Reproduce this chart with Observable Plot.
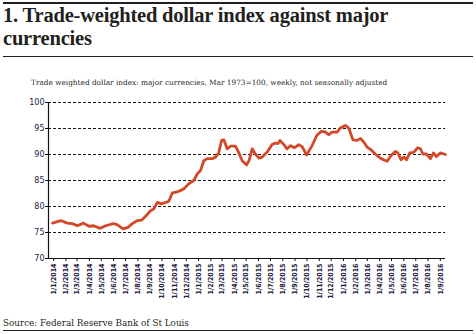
<!DOCTYPE html>
<html><head><meta charset="utf-8">
<script src="https://cdn.jsdelivr.net/npm/d3@7"></script>
<script src="https://cdn.jsdelivr.net/npm/@observablehq/plot@0.6"></script>
<style>
html,body{margin:0;padding:0;background:#fff}
body{width:476px;height:334px;position:relative;overflow:hidden;color:#231f20;font-family:"Liberation Serif","DejaVu Serif",serif}
.rule-top{position:absolute;left:3px;width:470px;top:2px;height:2px;background:#231f20}
.title{position:absolute;left:3px;top:4px;font-weight:bold;font-size:20.5px;line-height:23px;letter-spacing:-0.2px}
.rule-mid{position:absolute;left:3px;width:470px;top:56px;height:1px;background:#231f20}
.subtitle{position:absolute;left:31px;top:78px;font-family:"DejaVu Serif",serif;font-size:7.35px;white-space:nowrap}
#chart{position:absolute;left:0;top:90px}
.source{position:absolute;left:3px;top:318px;font-family:"DejaVu Serif",serif;font-size:8.8px;white-space:nowrap}
.rule-bot{position:absolute;left:3px;width:470px;top:330px;height:1px;background:#231f20}
</style>
</head><body>
<div class="rule-top"></div>
<div class="title">1. Trade-weighted dollar index against major<br>currencies</div>
<div class="rule-mid"></div>
<div class="subtitle">Trade weighted dollar index: major currencies, Mar 1973=100, weekly, not seasonally adjusted</div>
<div id="chart"></div>
<div class="source">Source: Federal Reserve Bank of St Louis</div>
<div class="rule-bot"></div>
<script>
const dates = ["2013-12-29","2014-01-19","2014-02-04","2014-02-17","2014-03-02","2014-03-17","2014-03-31","2014-04-12","2014-04-28","2014-05-12","2014-05-31","2014-06-10","2014-06-25","2014-07-07","2014-07-18","2014-07-31","2014-08-11","2014-08-23","2014-09-02","2014-09-10","2014-09-19","2014-09-29","2014-10-07","2014-10-18","2014-10-27","2014-11-08","2014-11-17","2014-11-25","2014-12-08","2014-12-20","2014-12-29","2015-01-06","2015-01-14","2015-01-23","2015-02-04","2015-02-13","2015-02-21","2015-02-28","2015-03-06","2015-03-14","2015-03-23","2015-04-04","2015-04-12","2015-04-21","2015-05-02","2015-05-08","2015-05-16","2015-05-24","2015-06-02","2015-06-10","2015-06-23","2015-07-05","2015-07-14","2015-07-20","2015-07-25","2015-08-04","2015-08-12","2015-08-21","2015-08-31","2015-09-10","2015-09-19","2015-09-30","2015-10-14","2015-10-26","2015-11-07","2015-11-17","2015-11-25","2015-12-03","2015-12-16","2015-12-24","2016-01-06","2016-01-14","2016-01-25","2016-02-04","2016-02-13","2016-02-21","2016-03-01","2016-03-09","2016-03-21","2016-04-03","2016-04-11","2016-04-20","2016-04-30","2016-05-11","2016-05-17","2016-05-25","2016-06-01","2016-06-08","2016-06-16","2016-06-26","2016-07-06","2016-07-13","2016-07-19","2016-07-28","2016-08-07","2016-08-15","2016-08-22","2016-09-01","2016-09-14"];
const values = [76.8,77.3,76.8,76.7,76.3,76.8,76.2,76.3,75.8,76.3,76.7,76.5,75.7,76.0,76.7,77.3,77.4,78.3,79.2,79.5,80.8,80.5,80.7,81.0,82.6,82.8,83.1,83.4,84.4,85.0,86.3,86.9,88.8,89.2,89.2,89.5,90.4,92.7,92.8,91.1,91.6,91.6,90.4,88.8,88.0,88.8,91.1,90.1,89.3,89.5,90.5,91.9,92.2,92.1,92.7,91.9,91.1,91.7,91.3,91.9,91.5,89.9,91.7,93.7,94.5,94.3,93.8,94.3,94.3,95.1,95.6,95.1,92.8,92.7,93.1,92.4,91.4,91.0,90.1,89.3,89.0,88.7,89.8,90.6,90.3,89.0,89.5,89.0,90.3,90.4,91.3,91.1,90.1,90.1,89.2,90.3,89.6,90.3,90.0];
const yTicks = [70,75,80,85,90,95,100];
const gridTicks = [75,80,85,90,95,100];
const xTickStart = "2014-01-01", xTickEnd = "2016-09-02";

const data = dates.map((d,i)=>({date:new Date(d+"T00:00:00Z"), value:values[i]}));
const xTicks = d3.utcMonth.range(new Date(xTickStart+"T00:00:00Z"), new Date(xTickEnd+"T00:00:00Z"));
const x0 = new Date("2013-12-19T00:00:00Z"), x1 = new Date("2016-09-14T00:00:00Z");
const fmt = d3.utcFormat("%-d/%-m/%Y");

const chart = Plot.plot({
  width: 476, height: 215,
  marginLeft: 48, marginRight: 31, marginTop: 12, marginBottom: 47,
  style: {fontFamily: "'DejaVu Sans', sans-serif", color: "#1e2040", background: "transparent"},
  x: {type: "utc", domain: [x0, x1]},
  y: {domain: [70, 100]},
  marks: [
    Plot.ruleY(gridTicks, {stroke: "#111", strokeWidth: 1, strokeDasharray: "3,2"}),
    Plot.ruleY([70], {stroke: "#111", strokeWidth: 1.2}),
    Plot.ruleX([x0], {stroke: "#111", strokeWidth: 1.2}),
    Plot.axisY({ticks: yTicks, tickSize: 3, tickPadding: 1, fontSize: 8, label: null, stroke:"#111"}),
    Plot.axisX({ticks: xTicks, tickFormat: fmt, tickRotate: -90, tickSize: 3, tickPadding: 2, fontSize: 7, fontFamily: "'DejaVu Sans Condensed', 'DejaVu Sans', sans-serif", fontWeight: "bold", label: null, stroke:"#111"}),
    Plot.lineY(data, {x: "date", y: "value", stroke: "#d4482a", strokeWidth: 2.8, curve: "linear", strokeLinejoin: "round"})
  ]
});
document.getElementById("chart").appendChild(chart);
</script>
</body></html>
